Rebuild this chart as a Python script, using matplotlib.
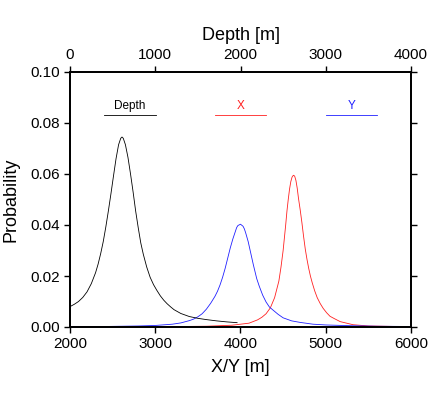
import matplotlib
matplotlib.use("Agg")
from matplotlib import pyplot as plt

plt.rcParams['font.family'] = ['Liberation Sans', 'DejaVu Sans']

# depth curve (top axis, m)
depth = [0, 50, 100, 150, 200, 250, 300, 330, 360, 390, 420, 450, 480, 510,
         540, 570, 595, 610, 625, 650, 680, 710, 740, 770, 800, 830, 860,
         900, 940, 980, 1020, 1060, 1100, 1140, 1180, 1220, 1300, 1400, 1500,
         1600, 1720, 1840, 1960]
p_depth = [0.0080, 0.0089, 0.0100, 0.0116, 0.0138, 0.0170, 0.0213, 0.0247,
           0.0288, 0.0335, 0.0392, 0.0455, 0.0522, 0.0592, 0.0660, 0.0715,
           0.0740, 0.0745, 0.0740, 0.0715, 0.0665, 0.0600, 0.0530, 0.0455,
           0.0390, 0.0330, 0.0285, 0.0235, 0.0195, 0.0166, 0.0143, 0.0122,
           0.0105, 0.0091, 0.0079, 0.0068, 0.0053, 0.0041, 0.0034, 0.0029,
           0.0024, 0.0020, 0.0017]

# Y curve (bottom axis, m)
y_pos = [2000, 2400, 2800, 3000, 3200, 3300, 3400, 3450, 3500, 3550, 3600,
         3650, 3700, 3730, 3760, 3790, 3820, 3850, 3880, 3910, 3940, 3955,
         3970, 4000, 4030, 4045, 4060, 4090, 4120, 4150, 4190, 4220, 4260,
         4300, 4340, 4440, 4500, 4600, 4700, 4850, 5000, 5300, 5600, 6000]
p_y = [0.0001, 0.0002, 0.0004, 0.0006, 0.0011, 0.0016, 0.0025, 0.0031,
       0.0040, 0.0052, 0.0070, 0.0093, 0.0120, 0.0140, 0.0165, 0.0195,
       0.0230, 0.0270, 0.0310, 0.0345, 0.0375, 0.0390, 0.0398, 0.0403,
       0.0395, 0.0385, 0.0370, 0.0335, 0.0290, 0.0245, 0.0190, 0.0160,
       0.0125, 0.0098, 0.0078, 0.0050, 0.0036, 0.0024, 0.0018, 0.0011,
       0.0008, 0.0005, 0.0003, 0.0002]

# X curve (bottom axis, m)
x_pos = [2000, 3000, 3600, 3900, 4100, 4200, 4250, 4300, 4350, 4400, 4450,
         4475, 4500, 4515, 4530, 4545, 4560, 4575, 4590, 4605, 4620, 4635,
         4650, 4665, 4680, 4700, 4720, 4740, 4760, 4780, 4800, 4820, 4840,
         4870, 4900, 4935, 4970, 5010, 5050, 5100, 5170, 5320, 5500, 6000]
p_x = [0.0000, 0.0001, 0.0003, 0.0007, 0.0015, 0.0028, 0.0038, 0.0052,
       0.0075, 0.0115, 0.0180, 0.0235, 0.0300, 0.0350, 0.0400, 0.0455,
       0.0500, 0.0540, 0.0570, 0.0588, 0.0595, 0.0592, 0.0575, 0.0545,
       0.0505, 0.0460, 0.0410, 0.0355, 0.0305, 0.0265, 0.0230, 0.0200,
       0.0175, 0.0142, 0.0115, 0.0092, 0.0073, 0.0056, 0.0042, 0.0033,
       0.0021, 0.0009, 0.0004, 0.0001]

xy_ticks = [2000, 3000, 4000, 5000, 6000]
depth_ticks = [0, 1000, 2000, 3000, 4000]
p_ticks = [0.00, 0.02, 0.04, 0.06, 0.08, 0.10]

fig = plt.figure(figsize=(4.45, 3.98), dpi=100)
ax = fig.add_axes([70 / 445, 71 / 398, 341 / 445, 255 / 398])
ax.set_xlim(2000, 6000)
ax.set_ylim(0, 0.10)
ax.plot(x_pos, p_x, color='#ff2020', lw=0.6)
ax.plot(y_pos, p_y, color='#2020ff', lw=0.6)

ax2 = ax.twiny()
ax2.set_xlim(0, 4000)
ax2.plot(depth, p_depth, color='black', lw=0.6)

ax.set_xticks(xy_ticks)
ax2.set_xticks(depth_ticks)
ax.set_yticks(p_ticks)
ax.set_yticklabels(['%.2f' % t for t in p_ticks])
ax.tick_params(direction='out', length=4, width=1.0, labelsize=11,
               right=True, pad=3)
ax2.tick_params(direction='out', length=4, width=1.0, labelsize=11, pad=3)
for a in (ax, ax2):
    for s in a.spines.values():
        s.set_linewidth(1.3)

ax.set_xlabel('X/Y [m]', fontsize=13, labelpad=6)
ax2.set_xlabel('Depth [m]', fontsize=13, labelpad=6)
ax.set_ylabel('Probability', fontsize=13, labelpad=8)

# legend entries: label above a short line
legend = [('Depth', 'black', 0.100), ('X', '#ff2020', 0.425), ('Y', '#2020ff', 0.750)]
for name, col, x0 in legend:
    ax.plot([x0, x0 + 0.151], [0.831, 0.831], color=col, lw=0.6,
            transform=ax.transAxes)
    ax.text(x0 + 0.075, 0.845, name, color=col, fontsize=8.5, ha='center',
            va='bottom', transform=ax.transAxes)

fig.savefig('out.png', dpi=100)
